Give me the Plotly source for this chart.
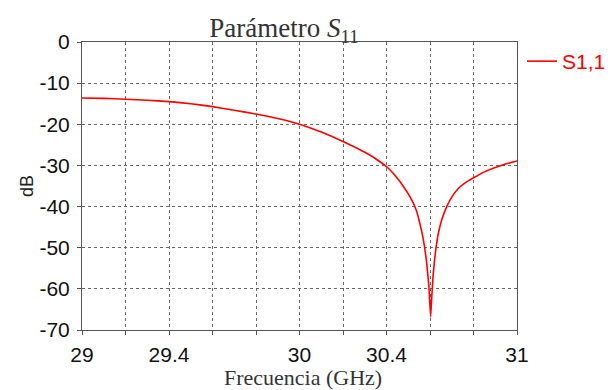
import plotly.graph_objects as go

freq_ghz = [29.0, 29.1, 29.2, 29.3, 29.4, 29.5, 29.6, 29.7, 29.8, 29.9, 30.0, 30.1, 30.2,
            30.3, 30.34, 30.37, 30.4, 30.42, 30.44, 30.46, 30.48, 30.5, 30.52, 30.53, 30.54,
            30.555, 30.565, 30.575, 30.585, 30.595, 30.603, 30.608, 30.614, 30.62, 30.627,
            30.638, 30.654, 30.677, 30.7, 30.73, 30.76, 30.8, 30.853, 30.9, 30.95, 31.0]
s11_db = [-13.6, -13.7, -13.9, -14.15, -14.5, -15.0, -15.7, -16.6, -17.5, -18.6, -20.0, -21.9, -24.2,
          -26.8, -28.0, -29.1, -30.3, -31.3, -32.5, -33.8, -35.3, -36.9, -38.8, -40.0, -41.4,
          -44.5, -46.8, -49.8, -53.8, -59.5, -66.8, -62.0, -57.0, -53.5, -50.3,
          -46.6, -43.2, -40.0, -37.7, -35.6, -34.3, -33.0, -31.5, -30.5, -29.6, -28.9]

x_tickvals = [29.0, 29.2, 29.4, 29.6, 29.8, 30.0, 30.2, 30.4, 30.6, 30.8, 31.0]
x_ticktext = ["29", "", "29.4", "", "", "30", "", "30.4", "", "", "31"]
y_tickvals = [0, -10, -20, -30, -40, -50, -60, -70]
y_ticktext = ["0", "-10", "-20", "-30", "-40", "-50", "-60", "-70"]

W, H = 610, 390
ML, MR, MT, MB = 82, 93, 42, 60
PW, PH = W - ML - MR, H - MT - MB

fig = go.Figure()
fig.add_trace(go.Scatter(x=freq_ghz, y=s11_db, mode="lines", name="S1,1",
                         line=dict(color="#ff0000", width=1.6, shape="spline", smoothing=0.4)))

axis_common = dict(showline=True, linecolor="#555555", linewidth=1, mirror=True,
                   showgrid=True, gridcolor="#666666", griddash="dot", gridwidth=1,
                   ticks="outside", ticklen=4, tickcolor="#555555", zeroline=False,
                   automargin=False,
                   tickfont=dict(family="Liberation Sans", size=21, color="#111111"))

fig.update_layout(
    width=W, height=H,
    margin=dict(l=ML, r=MR, t=MT, b=MB),
    paper_bgcolor="white", plot_bgcolor="white",
    title=dict(text="Parámetro <i>S</i><sub>11</sub>", x=(284 - ML) / PW, xanchor="center",
               xref="paper", y=1 - 28 / H, yanchor="middle", yref="container",
               font=dict(family="Liberation Serif", size=27, color="#333333")),
    xaxis=dict(range=[29, 31], tickvals=x_tickvals, ticktext=x_ticktext,
               ticklabelstandoff=2, **axis_common),
    yaxis=dict(range=[-70, 0], tickvals=y_tickvals, ticktext=y_ticktext,
               ticklabelstandoff=3, **axis_common),
    showlegend=True,
    legend=dict(xref="container", yref="container", x=522 / W, y=1 - 41 / H,
                xanchor="left", yanchor="top",
                font=dict(family="Liberation Sans", size=21, color="#ff0000"),
                bgcolor="rgba(0,0,0,0)", itemwidth=30),
    annotations=[
        dict(text="Frecuencia (GHz)", xref="paper", yref="paper",
             x=(303 - ML) / PW, y=(MT + PH - 377) / PH, xanchor="center", yanchor="middle",
             showarrow=False, font=dict(family="Liberation Serif", size=22, color="#333333")),
        dict(text="dB", xref="paper", yref="paper", x=(27 - ML) / PW, y=0.5,
             xanchor="center", yanchor="middle", textangle=-90, showarrow=False,
             font=dict(family="Liberation Sans", size=18, color="#222222")),
    ],
)

fig.write_html("out.html", config={"displayModeBar": False},
               post_script="document.body.style.margin='0';")
